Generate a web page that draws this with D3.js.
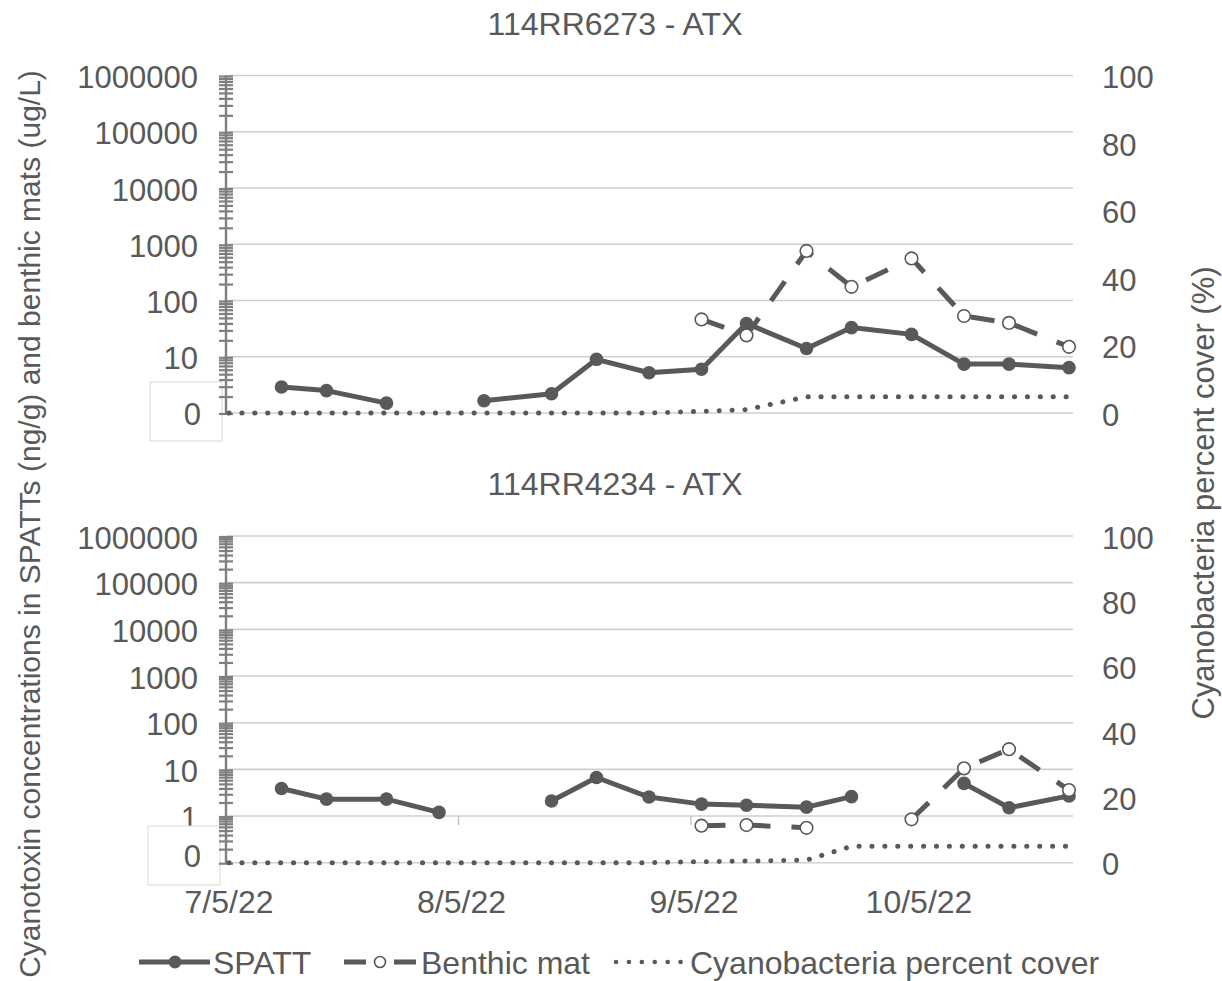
<!DOCTYPE html>
<html>
<head>
<meta charset="utf-8">
<script src="https://cdn.jsdelivr.net/npm/d3@7"></script>
<style>
html,body{margin:0;padding:0;background:#fff;}
svg text{font-family:"Liberation Sans",Arial,sans-serif;fill:#595959;}
</style>
</head>
<body>
<svg id="chart" width="1222" height="981"></svg>
<script>
// ---------- data ----------
const sampleDates = ["2022-07-05","2022-07-12","2022-07-18","2022-07-26","2022-08-02","2022-08-08","2022-08-17","2022-08-23","2022-08-30","2022-09-06","2022-09-12","2022-09-20","2022-09-26","2022-10-04","2022-10-11","2022-10-17","2022-10-25"];
const xTickDates = ["2022-07-05","2022-08-05","2022-09-05","2022-10-05"];
const xTickLabels = ["7/5/22","8/5/22","9/5/22","10/5/22"];
const rightTicks = [0,20,40,60,80,100];

const titleTop = "114RR6273 - ATX";
const spattTop   = [null,2.9,2.5,1.5,null,1.65,2.2,9.0,5.2,6.0,39,14,33,25,7.4,7.4,6.4];
const benthicTop = [null,null,null,null,null,null,null,null,null,46,24,760,175,560,53,40,15];
const coverTop   = [0,0,0,0,0,0,0,0,0,0.5,1,4.8,4.8,4.8,4.8,4.8,4.8];
const leftTicksTop = [1,10,100,1000,10000,100000,1000000];
const leftLabelsTop = ["","10","100","1000","10000","100000","1000000"];

const titleBottom = "114RR4234 - ATX";
const spattBottom   = [null,3.9,2.3,2.3,1.2,null,2.1,6.7,2.55,1.8,1.7,1.55,2.6,null,5.0,1.5,2.7];
const benthicBottom = [null,null,null,null,null,null,null,null,null,0.62,0.64,0.56,null,0.85,10.5,27,3.6];
const coverBottom   = [0,0,0,0,0,0,0,0,0,0.3,0.5,0.8,5,5,5,5,5];
const leftTicksBottom = [0.1,1,10,100,1000,10000,100000,1000000];
const leftLabelsBottom = ["","1","10","100","1000","10000","100000","1000000"];

const legendNames = ["SPATT","Benthic mat","Cyanobacteria percent cover"];
const yTitleLeft = "Cyanotoxin concentrations in SPATTs (ng/g) and benthic mats (ug/L)";
const yTitleRight = "Cyanobacteria percent cover (%)";

// ---------- setup ----------
const svg = d3.select("#chart");
const DARK = "#595959", AXIS = "#7f7f7f", GRID = "#cfcfcf";
const FONT = 31;
const parse = d3.utcParse("%Y-%m-%d");
const dates = sampleDates.map(parse);
const x = d3.scaleUtc().domain([parse("2022-07-05"), parse("2022-10-05")]).range([229, 919]);
const plotLeft = 227, plotRight = 1073;

function panel(opt) {
  const g = svg.append("g");
  const yL = d3.scaleLog().domain([opt.logMin, 1e6]).range([opt.bottom, opt.top]);
  const yR = d3.scaleLinear().domain([0, 100]).range([opt.bottom, opt.top]);

  // title
  g.append("text").attr("x", 615).attr("y", opt.top - 52)
    .attr("text-anchor", "middle").attr("dominant-baseline", "central")
    .style("font-size", "32px").text(opt.title);

  // gridlines
  g.append("g").selectAll("line").data(opt.leftTicks).join("line")
    .attr("x1", plotLeft).attr("x2", plotRight)
    .attr("y1", d => yL(d)).attr("y2", d => yL(d))
    .attr("stroke", GRID).attr("stroke-width", 1.6);

  // x tick marks at y = 1 (bottom panel)
  if (opt.xTicks) {
    g.append("g").selectAll("line").data(xTickDates.map(parse)).join("line")
      .attr("x1", d => x(d) - 3).attr("x2", d => x(d) - 3)
      .attr("y1", yL(1)).attr("y2", yL(1) + 9)
      .attr("stroke", "#c4c4c4").attr("stroke-width", 1.5);
  }

  // left tick labels
  g.append("g").selectAll("text").data(opt.leftTicks).join("text")
    .attr("x", 198).attr("y", d => yL(d) + 2)
    .attr("text-anchor", "end").attr("dominant-baseline", "central")
    .style("font-size", FONT + "px").text((d, i) => opt.leftLabels[i]);

  // right tick labels
  g.append("g").selectAll("text").data(rightTicks).join("text")
    .attr("x", 1102).attr("y", d => yR(d) + 2)
    .attr("text-anchor", "start").attr("dominant-baseline", "central")
    .style("font-size", FONT + "px").text(d => d);

  // "0" box
  g.append("rect").attr("x", opt.boxX).attr("y", opt.boxY).attr("width", 72).attr("height", 59)
    .attr("fill", "#fff").attr("stroke", "#d9d9d9").attr("stroke-width", 1);
  g.append("text").attr("x", 201).attr("y", opt.zeroY)
    .attr("text-anchor", "end").attr("dominant-baseline", "central")
    .style("font-size", FONT + "px").text("0");

  // left axis with minor ticks (log)
  const minor = [];
  const e0 = Math.round(Math.log10(opt.logMin));
  for (let e = e0; e < 6; e++) for (let m = 1; m < 10; m++) minor.push(m * Math.pow(10, e));
  minor.push(1e6);
  g.append("line").attr("x1", 226).attr("x2", 226).attr("y1", yL(1e6)).attr("y2", opt.bottom)
    .attr("stroke", AXIS).attr("stroke-width", 2.4);
  g.append("g").selectAll("line").data(minor).join("line")
    .attr("x1", 219).attr("x2", 233)
    .attr("y1", d => yL(d) + 1).attr("y2", d => yL(d) + 1)
    .attr("stroke", AXIS).attr("stroke-width", 2.2);

  // cover (dotted, right axis)
  const cover = dates.map((d, i) => ({d, v: opt.cover[i]}));
  g.append("path").datum(cover)
    .attr("d", d3.line().x(p => x(p.d)).y(p => yR(p.v)))
    .attr("fill", "none").attr("stroke", DARK).attr("stroke-width", 5)
    .attr("stroke-linecap", "round").attr("stroke-dasharray", "0.1,12.8");

  // SPATT
  const sp = dates.map((d, i) => ({d, v: opt.spatt[i]}));
  g.append("path").datum(sp)
    .attr("d", d3.line().defined(p => p.v != null).x(p => x(p.d)).y(p => yL(p.v)))
    .attr("fill", "none").attr("stroke", DARK).attr("stroke-width", 5).attr("stroke-linejoin", "round");
  g.append("g").selectAll("circle").data(sp.filter(p => p.v != null)).join("circle")
    .attr("cx", p => x(p.d)).attr("cy", p => yL(p.v)).attr("r", 6.8).attr("fill", DARK);

  // Benthic mat
  const bm = dates.map((d, i) => ({d, v: opt.benthic[i]}));
  g.append("path").datum(bm)
    .attr("d", d3.line().defined(p => p.v != null).x(p => x(p.d)).y(p => yL(p.v)))
    .attr("fill", "none").attr("stroke", DARK).attr("stroke-width", 5)
    .attr("stroke-dasharray", "24,21");
  g.append("g").selectAll("circle").data(bm.filter(p => p.v != null)).join("circle")
    .attr("cx", p => x(p.d)).attr("cy", p => yL(p.v)).attr("r", 6.3)
    .attr("fill", "#fff").attr("stroke", DARK).attr("stroke-width", 1.6);
}

panel({title: titleTop, top: 75.5, bottom: 413, logMin: 1, leftTicks: leftTicksTop, leftLabels: leftLabelsTop,
  spatt: spattTop, benthic: benthicTop, cover: coverTop, boxX: 150, boxY: 382, zeroY: 414, xTicks: false});
panel({title: titleBottom, top: 536, bottom: 862.7, logMin: 0.1, leftTicks: leftTicksBottom, leftLabels: leftLabelsBottom,
  spatt: spattBottom, benthic: benthicBottom, cover: coverBottom, boxX: 148, boxY: 826, zeroY: 856, xTicks: true});

// x axis labels
svg.append("g").selectAll("text").data(xTickDates).join("text")
  .attr("x", d => x(parse(d))).attr("y", 902)
  .attr("text-anchor", "middle").attr("dominant-baseline", "central")
  .style("font-size", "32px").text((d, i) => xTickLabels[i]);

// axis titles
svg.append("text").attr("transform", "translate(29,524) rotate(-90)")
  .attr("text-anchor", "middle").attr("dominant-baseline", "central")
  .style("font-size", "30px").text(yTitleLeft);
svg.append("text").attr("transform", "translate(1203,493) rotate(-90)")
  .attr("text-anchor", "middle").attr("dominant-baseline", "central")
  .style("font-size", "31px").text(yTitleRight);

// legend
const ly = 962;
const lg = svg.append("g");
lg.append("line").attr("x1", 139).attr("x2", 210).attr("y1", ly).attr("y2", ly)
  .attr("stroke", DARK).attr("stroke-width", 5);
lg.append("circle").attr("cx", 175).attr("cy", ly).attr("r", 6.5).attr("fill", DARK);
lg.append("text").attr("x", 213).attr("y", ly + 1).attr("dominant-baseline", "central")
  .style("font-size", "32px").text(legendNames[0]);
lg.append("line").attr("x1", 344).attr("x2", 416).attr("y1", ly).attr("y2", ly)
  .attr("stroke", DARK).attr("stroke-width", 5).attr("stroke-dasharray", "22,28");
lg.append("circle").attr("cx", 380).attr("cy", ly).attr("r", 5.5)
  .attr("fill", "#fff").attr("stroke", DARK).attr("stroke-width", 1.6);
lg.append("text").attr("x", 421).attr("y", ly + 1).attr("dominant-baseline", "central")
  .style("font-size", "32px").text(legendNames[1]);
lg.append("line").attr("x1", 616).attr("x2", 684).attr("y1", ly).attr("y2", ly)
  .attr("stroke", DARK).attr("stroke-width", 4.5).attr("stroke-linecap", "round")
  .attr("stroke-dasharray", "0.1,12.8");
lg.append("text").attr("x", 690).attr("y", ly + 1).attr("dominant-baseline", "central")
  .style("font-size", "32px").text(legendNames[2]);
</script>
</body>
</html>
